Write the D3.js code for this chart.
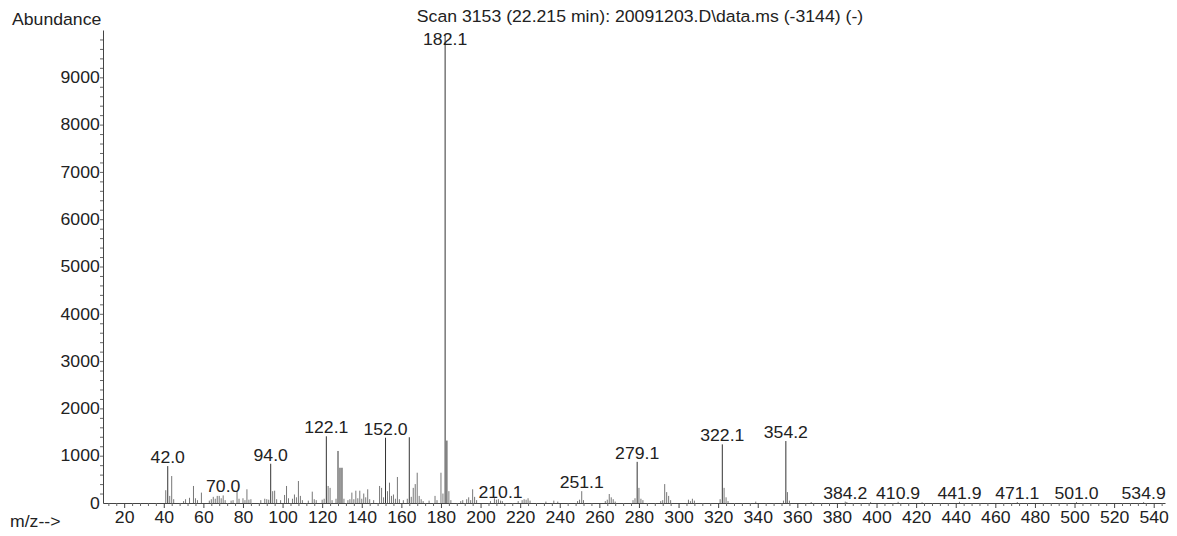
<!DOCTYPE html>
<html><head><meta charset="utf-8">
<title>Mass spectrum</title>
<script src="https://cdn.jsdelivr.net/npm/d3@7"></script>
<style>
  body { margin:0; background:#fff; }
  svg text { font-family:"Liberation Sans", Arial, sans-serif; fill:#222; }
</style>
</head>
<body>
<svg id="chart" width="1177" height="536"></svg>
<script>
// spectrum (m/z, abundance)
const mz = [41,42.0,43,44,45,50,51,53,55,56,57,59,63,64,65,66,67,68,69,70.0,71,74,75,77,78,80,81,82,83,84,89,91,92,93,
  94.0,95,96,97,99,101,102,103,105,106,107,108,109,110,113,115,116,117,120,121,122.1,123,124,125,127,128,129,130,131,
  133,134,135,136,137,138,139,140,141,142,143,144,146,149,150,151,152.0,153,154,155,156,157,158,159,161,163,164,165,
  166,167,168,169,170,171,174,177,178,180,181,182.1,183,184,185,190,191,193,194,195,196,197,198,205,207,208,209,210.1,
  211,219,221,222,223,224,225,233,237,239,249,250,251.1,252,263,264,265,266,267,268,277,278,279.1,280,281,282,291,292,
  293,294,295,296,305,306,307,308,321,322.1,323,324,325,339,353,354.2,355,356,367,384.2,385,397,410.9,423,441.9,471.1,
  501.0,534.9];
const abundance = [270,780,150,570,80,40,80,110,360,100,60,220,50,80,130,90,150,150,100,160,60,50,60,250,90,100,60,290,70,80,60,90,80,70,
  830,250,260,80,60,170,360,100,90,180,120,465,150,60,50,240,80,60,70,90,1410,360,320,60,90,1100,745,745,90,
  60,80,220,80,260,100,260,90,200,120,290,80,60,360,320,120,1380,250,430,150,180,90,550,80,60,90,1390,130,
  320,400,640,150,80,40,50,150,60,640,200,9880,1320,250,60,40,60,80,120,60,290,130,60,40,100,70,80,50,
  40,40,60,80,70,100,50,30,50,30,40,70,250,60,40,70,190,120,80,30,60,100,870,320,90,60,40,60,
  400,230,150,60,70,40,90,50,80,1240,320,120,40,30,50,1310,230,50,20,30,20,20,25,15,25,20,
  20,20];

const peakLabels = ["42.0","70.0","94.0","122.1","152.0","182.1","210.1","251.1","279.1","322.1","354.2",
  "384.2","410.9","441.9","471.1","501.0","534.9"];
const yTicks = [0,1000,2000,3000,4000,5000,6000,7000,8000,9000];
const xTicks = [20,40,60,80,100,120,140,160,180,200,220,240,260,280,300,320,340,360,380,400,420,440,460,480,500,520,540];
const title = "Scan 3153 (22.215 min): 20091203.D\\data.ms (-3144) (-)";

const svg = d3.select("#chart");
const fs = 16.5, sx = 1.07;   // scanned glyphs are a bit wide

const x = d3.scaleLinear().domain([9.3, 545.7]).range([103, 1165]);
const y = d3.scaleLinear().domain([0, 10000]).range([503, 30]);

// y axis
const gy = svg.append("g").attr("transform", "translate(103,0)")
  .call(d3.axisLeft(y).tickValues(yTicks).tickSize(0).tickSizeOuter(0).tickPadding(3).tickFormat(d3.format("d")));
gy.attr("font-size", fs).attr("font-family", null);
gy.select(".domain").attr("stroke", "#444");
gy.selectAll(".tick text").attr("transform", `scale(${sx},1)`);

svg.append("g").attr("transform", "translate(103,0)")
  .call(d3.axisLeft(y).tickValues(d3.range(200, 10000, 200)).tickSize(3).tickFormat(""))
  .call(g => g.select(".domain").remove())
  .selectAll("line").attr("stroke", "#666");

// x axis
const gx = svg.append("g").attr("transform", "translate(0,503)")
  .call(d3.axisBottom(x).tickValues(xTicks).tickSize(5).tickSizeOuter(0).tickPadding(3));
gx.attr("font-size", fs).attr("font-family", null);
gx.select(".domain").attr("stroke", "#444");
gx.selectAll(".tick line").attr("stroke", "#444");
gx.selectAll(".tick text").attr("transform", `scale(${sx},1)`);

svg.append("g").attr("transform", "translate(0,503)")
  .call(d3.axisBottom(x).tickValues(d3.range(12, 546, 4).filter(v => v % 20 !== 0)).tickSize(3).tickFormat(""))
  .call(g => g.select(".domain").remove())
  .selectAll("line").attr("stroke", "#666");

// peaks
const peaks = mz.map((m, i) => ({ m: m, a: abundance[i] }));
svg.append("g").selectAll("line").data(peaks).join("line")
  .attr("x1", d => x(d.m)).attr("x2", d => x(d.m))
  .attr("y1", y(0)).attr("y2", d => y(d.a))
  .attr("stroke", d => d.a > 700 ? "#333" : "#777")
  .attr("stroke-width", 1);

// peak labels
peakLabels.forEach(t => {
  const m = +t;
  const p = peaks.reduce((b, d) => Math.abs(d.m - m) < Math.abs(b.m - m) ? d : b);
  const base = Math.max(y(p.a) - 3, 45);
  svg.append("text")
    .attr("transform", `translate(${x(m)},${base}) scale(${sx},1)`)
    .attr("text-anchor", "middle").attr("font-size", fs)
    .text(t);
});

// texts
svg.append("text").attr("transform", `translate(12,25) scale(${sx},1)`)
  .attr("font-size", fs).text("Abundance");
svg.append("text").attr("transform", `translate(640,22) scale(${sx},1)`)
  .attr("text-anchor", "middle").attr("font-size", fs).text(title);
svg.append("text").attr("transform", `translate(10,527) scale(${sx},1)`)
  .attr("font-size", fs).text("m/z-->");
</script>
</body></html>
